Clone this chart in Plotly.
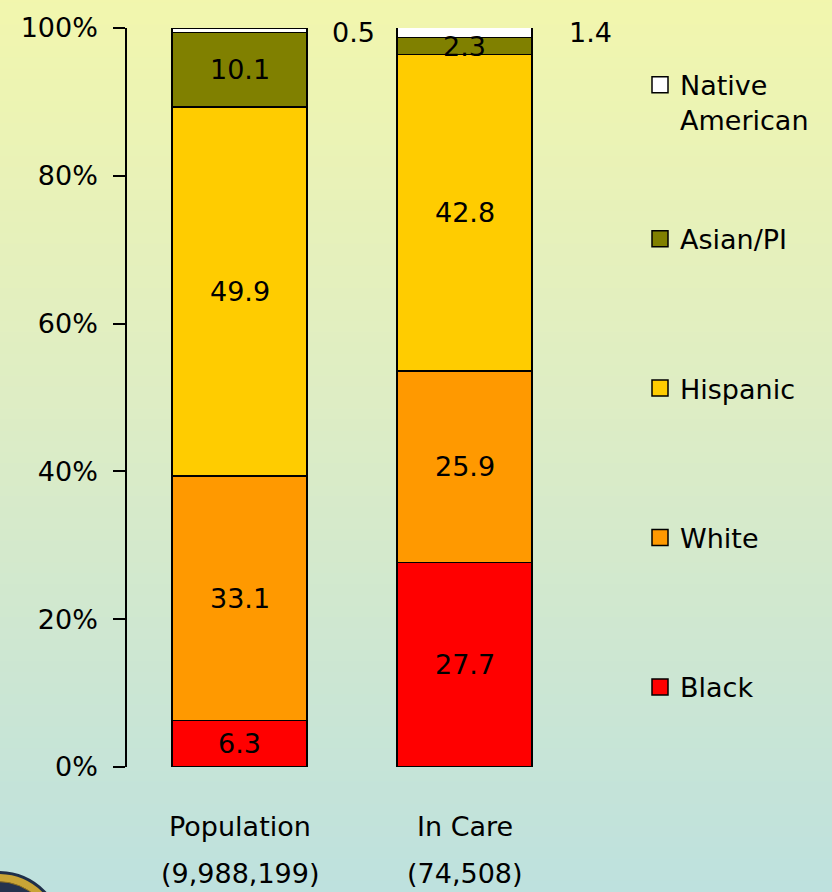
import plotly.graph_objects as go

categories = ["Population", "In Care"]
counts = ["(9,988,199)", "(74,508)"]
groups = ["Black", "White", "Hispanic", "Asian/PI", "Native American"]
legend_names = ["Black", "White", "Hispanic", "Asian/PI", "Native<br>American"]
colors = ["#FF0000", "#FF9900", "#FFCC00", "#808000", "#FFFFFF"]
values = {
    "Black": [6.3, 27.7],
    "White": [33.1, 25.9],
    "Hispanic": [49.9, 42.8],
    "Asian/PI": [10.1, 2.3],
    "Native American": [0.5, 1.4],
}
y_ticks = [0, 20, 40, 60, 80, 100]
y_ticktext = ["0%", "20%", "40%", "60%", "80%", "100%"]

FONT = "DejaVu Sans"
FS = 27

fig = go.Figure()

# gradient background bands
top_rgb = (246, 248, 168)
mid_rgb = (222, 237, 196)
bot_rgb = (190, 225, 222)
N = 90
shapes = []
py0, py1 = -125 / 742, (892 - 25) / 742
px0, px1 = -127 / 450, (832 - 127) / 450
for i in range(N):
    t = i / (N - 1)
    if t < 0.5:
        u = t / 0.5
        c = tuple(int(round(top_rgb[k] + (mid_rgb[k] - top_rgb[k]) * u)) for k in range(3))
    else:
        u = (t - 0.5) / 0.5
        c = tuple(int(round(mid_rgb[k] + (bot_rgb[k] - mid_rgb[k]) * u)) for k in range(3))
    y_top = py1 - (py1 - py0) * i / N
    y_bot = py1 - (py1 - py0) * (i + 1) / N
    shapes.append(dict(type="rect", xref="paper", yref="paper", x0=px0, x1=px1,
                       y0=y_bot - 0.002, y1=y_top, line=dict(width=0),
                       fillcolor="rgb(%d,%d,%d)" % c, layer="below"))


def px_circle(cx, cy, r, **kw):
    return dict(type="circle", xref="paper", yref="paper",
                x0=(cx - r - 127) / 450, x1=(cx + r - 127) / 450,
                y0=(767 - (cy + r)) / 742, y1=(767 - (cy - r)) / 742, layer="below", **kw)


# partial seal in bottom-left corner
shapes.append(px_circle(-2, 938, 65, fillcolor="#c9a436", line=dict(color="#1f2f4a", width=3)))
shapes.append(px_circle(-2, 938, 56, fillcolor="#24324e", line=dict(color="#8a6d20", width=1)))

legend_y = {"Black": 0.1078, "White": 0.310, "Hispanic": 0.5121, "Asian/PI": 0.7143,
            "Native American": 0.899}
legend_ids = {"Black": "legend5", "White": "legend4", "Hispanic": "legend3",
              "Asian/PI": "legend2", "Native American": "legend"}

for g, name, col in zip(groups, legend_names, colors):
    fig.add_trace(go.Bar(
        x=categories, y=values[g], name=g, marker=dict(color=col, line=dict(color="black", width=1.5)),
        width=0.6, showlegend=False, hoverinfo="skip"))
    fig.add_trace(go.Scatter(
        x=[None], y=[None], mode="markers", name=name, legend=legend_ids[g],
        marker=dict(symbol="square", size=22, color=col, line=dict(color="black", width=1.5)),
        showlegend=True))

annotations = []
# segment labels
for ci, cat in enumerate(categories):
    base = 0
    for g in groups:
        v = values[g][ci]
        if g != "Native American":
            annotations.append(dict(x=cat, y=base + v / 2, xref="x", yref="y", text=f"{v}",
                                    showarrow=False, font=dict(family=FONT, size=FS, color="black")))
        base += v
# Native American labels outside bars
annotations.append(dict(x=0.3, y=99.4, xref="x", yref="y", text=f"{values['Native American'][0]}",
                        xanchor="left", xshift=23, showarrow=False,
                        font=dict(family=FONT, size=FS, color="black")))
annotations.append(dict(x=1.3, y=99.4, xref="x", yref="y", text=f"{values['Native American'][1]}",
                        xanchor="left", xshift=35, showarrow=False,
                        font=dict(family=FONT, size=FS, color="black")))
# category labels
for cat, cnt in zip(categories, counts):
    annotations.append(dict(x=cat, y=0, xref="x", yref="paper", text=cat, yanchor="middle",
                            yshift=-59, showarrow=False, font=dict(family=FONT, size=FS, color="black")))
    annotations.append(dict(x=cat, y=0, xref="x", yref="paper", text=cnt, yanchor="middle",
                            yshift=-106, showarrow=False, font=dict(family=FONT, size=FS, color="black")))

legend_common = dict(x=1.14, xanchor="left", yanchor="middle", bgcolor="rgba(0,0,0,0)",
                     borderwidth=0, font=dict(family=FONT, size=FS, color="black"), valign="top")

fig.update_layout(
    width=832, height=892,
    margin=dict(l=127, r=255, t=25, b=125),
    barmode="stack",
    paper_bgcolor="rgb(222,237,196)",
    plot_bgcolor="rgba(0,0,0,0)",
    font=dict(family=FONT, size=FS, color="black"),
    shapes=shapes,
    annotations=annotations,
    xaxis=dict(range=[-0.5, 1.5], showticklabels=False, showline=False, showgrid=False,
               zeroline=False, ticks=""),
    yaxis=dict(range=[0, 100], tickvals=y_ticks, ticktext=y_ticktext, showline=True,
               linecolor="black", linewidth=1.5, ticks="outside", ticklen=12, tickwidth=1.5,
               tickcolor="black", showgrid=False, zeroline=False, ticklabelstandoff=10,
               tickfont=dict(family=FONT, size=FS, color="black")),
    legend=dict(y=legend_y["Native American"], **legend_common),
    legend2=dict(y=legend_y["Asian/PI"], **legend_common),
    legend3=dict(y=legend_y["Hispanic"], **legend_common),
    legend4=dict(y=legend_y["White"], **legend_common),
    legend5=dict(y=legend_y["Black"], **legend_common),
)

fig.write_html("out.html", config={"displayModeBar": False},
               post_script="document.body.style.margin='0';document.body.style.overflow='hidden';")
